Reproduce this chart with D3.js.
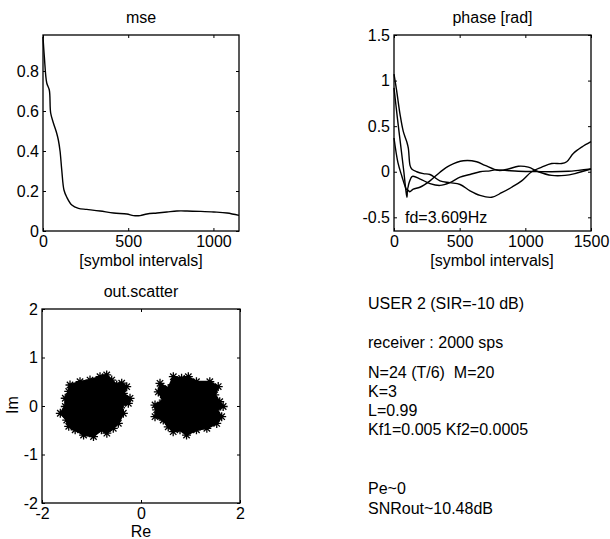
<!DOCTYPE html>
<html>
<head>
<meta charset="utf-8">
<script src="https://cdn.jsdelivr.net/npm/d3@7"></script>
<style>
  body { margin: 0; background: #fff; }
  svg { display: block; font-family: "Liberation Sans", Arial, sans-serif; }
  text { fill: #000; white-space: pre; }
</style>
</head>
<body>
<svg id="chart" width="610" height="539"></svg>
<script>
// mse curve, [symbol interval, mse]
const mseX = [0, 8, 22, 37, 45, 61, 80, 90, 100, 110, 123, 139, 169, 208, 257, 335, 414, 492, 531, 570, 610, 669, 727, 786, 845, 923, 1002, 1080, 1150];
const mseY = [0.97, 0.87, 0.74, 0.705, 0.59, 0.54, 0.49, 0.455, 0.40, 0.305, 0.205, 0.17, 0.13, 0.113, 0.108, 0.10, 0.09, 0.085, 0.077, 0.077, 0.085, 0.09, 0.095, 0.10, 0.10, 0.098, 0.095, 0.09, 0.078];

// phase curves [rad]
const phaseAX = [0, 20, 46, 71, 97, 109, 122, 135, 173, 223, 274, 350, 426, 503, 579, 655, 744, 820, 896, 972, 1048, 1125, 1201, 1277, 1315, 1365, 1429, 1500];
const phaseAY = [1.07, 0.89, 0.63, 0.44, 0.33, 0.26, 0.07, 0.03, 0.0, -0.02, -0.03, -0.1, -0.12, -0.14, -0.21, -0.26, -0.28, -0.23, -0.17, -0.1, 0.0, 0.05, 0.09, 0.09, 0.11, 0.2, 0.27, 0.33];
const phaseBX = [0, 25, 50, 75, 90, 99, 105, 120, 147, 197, 274, 350, 426, 528, 629, 693, 795, 871, 947, 1023, 1099, 1201, 1302, 1378, 1500];
const phaseBY = [0.92, 0.6, 0.3, 0.0, -0.2, -0.28, -0.2, -0.22, -0.19, -0.17, -0.1, -0.005, 0.07, 0.12, 0.11, 0.07, 0.015, 0.03, 0.06, 0.05, 0.0, -0.04, -0.04, -0.02, 0.03];
const phaseCX = [0, 30, 60, 90, 100, 115, 140, 200, 274, 350, 426, 503, 579, 655, 731, 769, 845, 947, 1074, 1201, 1328, 1404, 1500];
const phaseCY = [0.37, 0.1, -0.05, -0.18, -0.2, -0.12, -0.05, -0.08, -0.13, -0.15, -0.12, -0.06, -0.03, 0.0, 0.01, 0.02, 0.015, 0.005, 0.003, 0.0, 0.005, 0.015, 0.03];

// scatter clusters: outline points (also star markers), [Re, Im]
const leftRe = [-1.434, -1.232, -1.03, -0.828, -0.693, -0.592, -0.491, -0.39, -0.289, -0.357, -0.222, -0.256, -0.39, -0.357, -0.458, -0.56, -0.69, -0.80, -0.96, -1.16, -1.33, -1.46, -1.5, -1.63, -1.53, -1.53, -1.46];
const leftIm = [0.433, 0.501, 0.535, 0.604, 0.64, 0.535, 0.433, 0.47, 0.398, 0.26, 0.158, 0.055, 0.02, -0.15, -0.357, -0.46, -0.56, -0.49, -0.63, -0.6, -0.49, -0.42, -0.29, -0.15, -0.01, 0.16, 0.30];
const rightRe = [0.384, 0.55, 0.653, 0.82, 0.956, 1.12, 1.39, 1.56, 1.49, 1.59, 1.66, 1.53, 1.63, 1.53, 1.33, 1.12, 0.92, 0.788, 0.65, 0.55, 0.45, 0.283, 0.317, 0.283, 0.45, 0.35];
const rightIm = [0.468, 0.36, 0.604, 0.57, 0.604, 0.50, 0.50, 0.40, 0.23, 0.09, -0.01, -0.08, -0.22, -0.36, -0.46, -0.49, -0.6, -0.49, -0.53, -0.43, -0.29, -0.22, -0.08, 0.02, 0.12, 0.29];

// ticks
const mseXTicks = [0, 500, 1000];
const mseYTicks = [0, 0.2, 0.4, 0.6, 0.8];
const phXTicks = [0, 500, 1000, 1500];
const phYTicks = [-0.5, 0, 0.5, 1, 1.5];
const scTicks = [-2, -1, 0, 1, 2];
const scXTicks = [-2, 0, 2];

const infoLines = [
  ["USER 2 (SIR=-10 dB)", 309],
  ["receiver : 2000 sps", 348],
  ["N=24 (T/6)  M=20", 378],
  ["K=3", 397],
  ["L=0.99", 416],
  ["Kf1=0.005 Kf2=0.0005", 435],
  ["Pe~0", 494],
  ["SNRout~10.48dB", 514]
];

const svg = d3.select("#chart");

function panel(box, xDom, yDom, xt, yt, title) {
  const x = d3.scaleLinear().domain(xDom).range([box.x0, box.x1]);
  const y = d3.scaleLinear().domain(yDom).range([box.y1, box.y0]);
  const g = svg.append("g");
  const tl = 3;
  // inward ticks on all four sides
  g.append("g").attr("transform", "translate(0," + box.y1 + ")")
    .call(d3.axisBottom(x).tickValues(xt).tickSize(-tl).tickPadding(5).tickFormat(d => String(d)))
    .call(a => a.select(".domain").remove());
  g.append("g").attr("transform", "translate(0," + box.y0 + ")")
    .call(d3.axisTop(x).tickValues(xt).tickSize(-tl).tickFormat(""))
    .call(a => a.select(".domain").remove());
  g.append("g").attr("transform", "translate(" + box.x0 + ",0)")
    .call(d3.axisLeft(y).tickValues(yt).tickSize(-tl).tickPadding(4).tickFormat(d => String(d)))
    .call(a => a.select(".domain").remove());
  g.append("g").attr("transform", "translate(" + box.x1 + ",0)")
    .call(d3.axisRight(y).tickValues(yt).tickSize(-tl).tickFormat(""))
    .call(a => a.select(".domain").remove());
  g.selectAll(".tick line").attr("stroke", "#000").attr("stroke-width", 1);
  g.selectAll(".tick text").attr("font-size", 16).attr("font-family", "Liberation Sans, Arial, sans-serif").attr("fill", "#000");
  g.append("rect").attr("x", box.x0).attr("y", box.y0)
    .attr("width", box.x1 - box.x0).attr("height", box.y1 - box.y0)
    .attr("fill", "none").attr("stroke", "#000").attr("stroke-width", 1.3);
  svg.append("text").attr("x", (box.x0 + box.x1) / 2).attr("y", box.y0 - 12)
    .attr("text-anchor", "middle").attr("font-size", 16).text(title);
  return { x, y, g };
}

function curve(p, xs, ys) {
  const line = d3.line().x((d, i) => p.x(xs[i])).y((d, i) => p.y(ys[i])).curve(d3.curveCatmullRom);
  svg.append("path").datum(xs).attr("d", line)
    .attr("fill", "none").attr("stroke", "#000").attr("stroke-width", 1.4)
    .attr("stroke-linejoin", "round");
}

// mse
const pm = panel({ x0: 43, x1: 239, y0: 35, y1: 231 }, [0, 1150], [0, 0.98], mseXTicks, mseYTicks, "mse");
curve(pm, mseX, mseY);
svg.append("text").attr("x", 141).attr("y", 266).attr("text-anchor", "middle")
  .attr("font-size", 16).text("[symbol intervals]");

// phase
const pp = panel({ x0: 394, x1: 591, y0: 35, y1: 231 }, [0, 1500], [-0.65, 1.5], phXTicks, phYTicks, "phase [rad]");
curve(pp, phaseAX, phaseAY);
curve(pp, phaseBX, phaseBY);
curve(pp, phaseCX, phaseCY);
svg.append("text").attr("x", 492).attr("y", 266).attr("text-anchor", "middle")
  .attr("font-size", 16).text("[symbol intervals]");
svg.append("text").attr("x", 405).attr("y", 223).attr("font-size", 16).text("fd=3.609Hz");

// scatter
const ps = panel({ x0: 42, x1: 240, y0: 309, y1: 503 }, [-2, 2], [-2, 2], scXTicks, scTicks, "out.scatter");
const s = 4.5, k = 3.2;
const star = `M${-s},0H${s}M0,${-s}V${s}M${-k},${-k}L${k},${k}M${-k},${k}L${k},${-k}`;
[[leftRe, leftIm], [rightRe, rightIm]].forEach(([re, im]) => {
  const outline = d3.line().x((d, i) => ps.x(re[i])).y((d, i) => ps.y(im[i])).curve(d3.curveLinearClosed);
  svg.append("path").datum(re).attr("d", outline).attr("fill", "#000").attr("stroke", "#000").attr("stroke-width", 2);
  svg.append("g").selectAll("path").data(re).join("path")
    .attr("transform", (d, i) => `translate(${ps.x(re[i])},${ps.y(im[i])})`)
    .attr("d", star).attr("stroke", "#000").attr("stroke-width", 1.3).attr("fill", "none");
});
svg.append("text").attr("x", 141).attr("y", 537).attr("text-anchor", "middle")
  .attr("font-size", 16).text("Re");
svg.append("text").attr("transform", "translate(18,405) rotate(-90)").attr("text-anchor", "middle")
  .attr("font-size", 16).text("Im");

// info text
svg.append("g").selectAll("text").data(infoLines).join("text")
  .attr("x", 368).attr("y", d => d[1]).attr("font-size", 16).text(d => d[0]);
</script>
</body>
</html>
